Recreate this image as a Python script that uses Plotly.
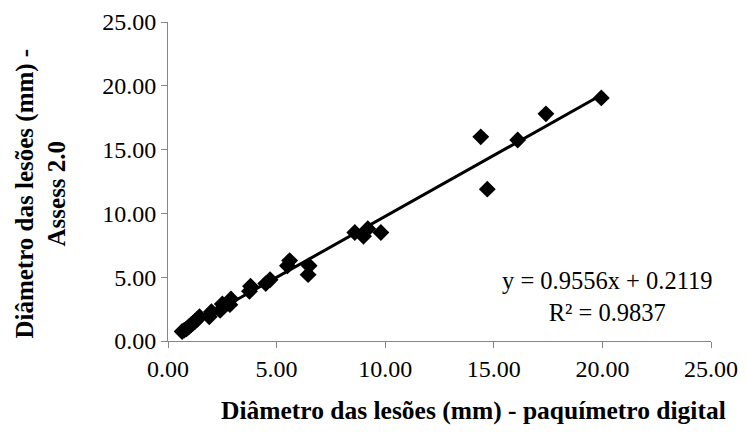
import plotly.graph_objects as go

# Data
paquimetro = [0.65, 0.75, 0.85, 0.95, 1.05, 1.15, 1.25, 1.35, 1.45, 1.9, 2.0, 2.4, 2.5,
              2.85, 2.9, 3.75, 3.8, 4.5, 4.7, 5.5, 5.6, 6.45, 6.5, 8.6, 9.0, 9.2, 9.8,
              14.4, 14.7, 16.1, 17.4, 19.95]
assess = [0.75, 0.85, 0.95, 1.1, 1.25, 1.4, 1.55, 1.7, 1.9, 1.9, 2.3, 2.4, 2.9,
          2.85, 3.3, 3.9, 4.3, 4.5, 4.8, 5.9, 6.3, 5.2, 5.9, 8.5, 8.2, 8.8, 8.5,
          16.0, 11.9, 15.75, 17.8, 19.05]
slope = 0.9556
intercept = 0.2119
r2 = 0.9837
tick_vals = [0, 5, 10, 15, 20, 25]
tick_text = ["0.00", "5.00", "10.00", "15.00", "20.00", "25.00"]

fit_x = [min(paquimetro), max(paquimetro)]
fit_y = [slope * v + intercept for v in fit_x]

FONT = "Liberation Serif"

fig = go.Figure()
fig.add_trace(go.Scatter(x=paquimetro, y=assess, mode="markers",
                         marker=dict(symbol="diamond", size=13, color="black"),
                         showlegend=False, hoverinfo="skip"))
fig.add_trace(go.Scatter(x=fit_x, y=fit_y, mode="lines",
                         line=dict(color="black", width=3), showlegend=False,
                         hoverinfo="skip"))

axis_common = dict(range=[0, 25], tickvals=tick_vals, ticktext=tick_text,
                   showgrid=False, zeroline=False, showline=True,
                   linecolor="#868686", linewidth=1, ticks="outside",
                   ticklen=6, tickcolor="#868686", automargin=False,
                   tickfont=dict(family=FONT, size=24, color="black"))

fig.update_xaxes(**axis_common)
fig.update_yaxes(**axis_common)

fig.add_annotation(text="Diâmetro das lesões (mm) -<br>Assess 2.0",
                   xref="paper", yref="paper", x=-0.2346, y=0.461,
                   xanchor="center", yanchor="middle", textangle=-90,
                   showarrow=False, align="center",
                   font=dict(family=FONT, size=25, color="black", weight="bold"))
fig.add_annotation(text="Diâmetro das lesões (mm) - paquímetro digital",
                   xref="paper", yref="paper", x=0.562, y=-0.218,
                   xanchor="center", yanchor="middle", showarrow=False,
                   font=dict(family=FONT, size=25.5, color="black", weight="bold"))
fig.add_annotation(text=f"y = {slope}x + {intercept}<br>R² = {r2}",
                   xref="paper", yref="paper", x=0.8087, y=0.139,
                   xanchor="center", yanchor="middle", showarrow=False,
                   align="center",
                   font=dict(family=FONT, size=24.5, color="black"))

fig.update_layout(template="none", width=747, height=439,
                  margin=dict(l=168, r=36, t=22, b=98, autoexpand=False),
                  paper_bgcolor="white", plot_bgcolor="white")

fig.write_html("out.html",
               config={"displayModeBar": False, "staticPlot": True},
               post_script="document.body.style.margin='0';document.body.style.overflow='hidden';")
